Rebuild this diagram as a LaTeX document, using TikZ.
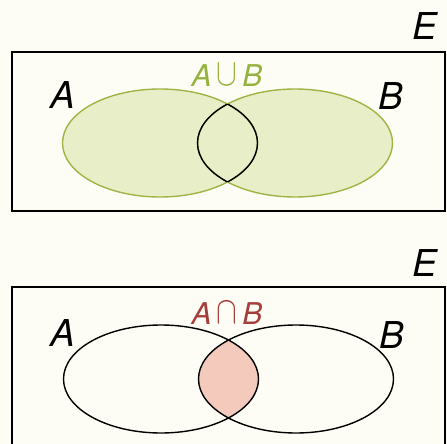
\documentclass[tikz,border=0pt]{standalone}
\usepackage{fontspec}
\setmainfont{TeX Gyre Heros}
\usetikzlibrary{shapes.geometric}
\definecolor{paper}{RGB}{253,253,245}
\definecolor{unionfill}{RGB}{232,239,200}
\definecolor{unionline}{RGB}{160,180,70}
\definecolor{uniontext}{RGB}{150,178,62}
\definecolor{interfill}{RGB}{243,202,188}
\definecolor{intertext}{RGB}{165,62,58}
\tikzset{
  frame/.style={draw, line width=1.8pt},
  set/.style={ellipse, minimum width=195pt, minimum height=108pt, inner sep=0pt, line width=1.4pt},
  big/.style={font=\fontsize{37}{42}\selectfont\itshape, inner sep=0pt},
  op/.style={font=\fontsize{30}{34}\selectfont\itshape, inner sep=0pt}
}
\newcommand{\opsym}[1]{\raisebox{0.02em}{\scalebox{1.25}[1.55]{$#1$}}}
\begin{document}
\begin{tikzpicture}[x=1pt, y=-1pt]
  \useasboundingbox[fill=paper] (0,0) rectangle (447,444);
  % union
  \node[frame, rectangle, minimum width=433pt, minimum height=159pt, anchor=north west] (e1) at (11,51) {};
  \node[set, fill=unionfill] (a1) at (160,143) {};
  \node[set, fill=unionfill] (b1) at (295,143) {};
  \node[set, draw=unionline] at (a1) {};
  \node[set, draw=unionline] at (b1) {};
  \begin{scope}
    \clip (b1.center) ellipse [x radius=97.5pt, y radius=54pt];
    \draw[line width=1.4pt] (a1.center) ellipse [x radius=97.5pt, y radius=54pt];
  \end{scope}
  \begin{scope}
    \clip (a1.center) ellipse [x radius=97.5pt, y radius=54pt];
    \draw[line width=1.4pt] (b1.center) ellipse [x radius=97.5pt, y radius=54pt];
  \end{scope}
  \node[big] (le1) at (425,26) {E};
  \node[big] (la1) at (63,95) {A};
  \node[big] (lb1) at (391,96) {B};
  \node[op, text=uniontext] (lu) at (227,75) {A\,\opsym{\cup}\,B};
  % intersection
  \node[frame, rectangle, minimum width=433pt, minimum height=175pt, anchor=north west] (e2) at (11,286) {};
  \begin{scope}
    \clip (161,379) ellipse [x radius=97.5pt, y radius=54pt];
    \fill[interfill] (296,379) ellipse [x radius=97.5pt, y radius=54pt];
  \end{scope}
  \node[set, draw] (a2) at (161,379) {};
  \node[set, draw] (b2) at (296,379) {};
  \node[big] (le2) at (425,263) {E};
  \node[big] (la2) at (63,333) {A};
  \node[big] (lb2) at (392,335) {B};
  \node[op, text=intertext] (li) at (227,313) {A\,\opsym{\cap}\,B};
\end{tikzpicture}
\end{document}
